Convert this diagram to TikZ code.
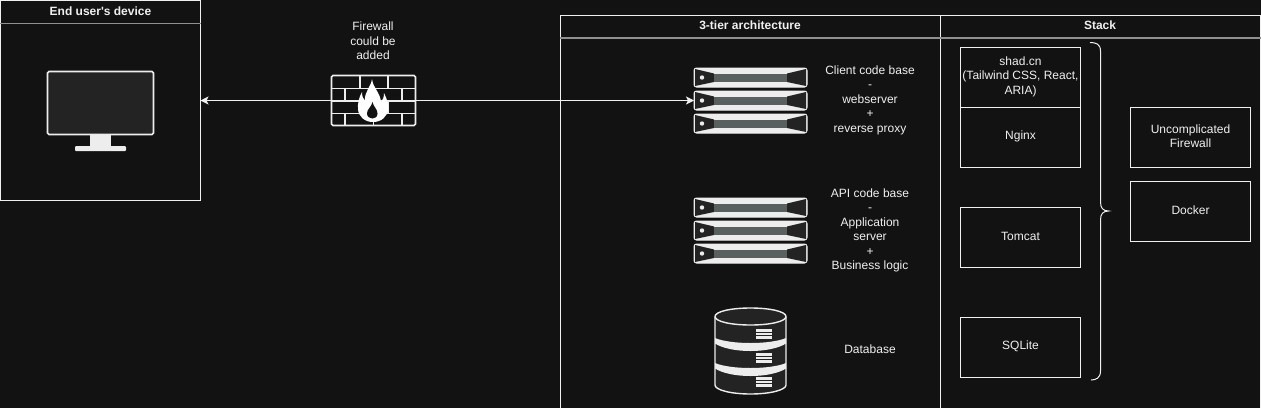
\documentclass[tikz,border=0pt]{standalone}
\usepackage{fontspec}
\setmainfont{Liberation Sans}
\newfontfamily\rawsans{Liberation Sans}
\usetikzlibrary{arrows.meta,calc}
\definecolor{bgc}{HTML}{121212}
\definecolor{ink}{HTML}{F0F0F0}
\definecolor{lightc}{HTML}{EDEDED}
\definecolor{darkc}{HTML}{232323}
\definecolor{barc}{HTML}{596060}
\definecolor{headc}{HTML}{909090}
\tikzset{
  x=1pt,y=-1pt,
  every node/.style={font=\fontsize{12}{14.5}\selectfont,text=ink,inner sep=0pt,outer sep=0pt,align=center},
  title/.style={font=\fontsize{12}{14.5}\selectfont\rawsans\bfseries},
  panel/.style={draw=ink,line width=1pt},
  headline/.style={draw=headc,line width=1.6pt},
  stackbox/.style={draw=ink,line width=1pt,rectangle,minimum width=120pt,minimum height=60pt,anchor=north west},
  pics/rack/.style={code={
    \foreach \yy in {0,23,46}{
      \begin{scope}[yshift=-\yy pt]
      \draw[lightc,fill=lightc,line width=1pt,rounded corners=2.5pt] (0,0) rectangle (113,19);
      \fill[darkc] (1,1) -- (20,5.5) -- (20,14) -- (1,18) -- cycle;
      \fill[darkc] (112,1) -- (93,5.5) -- (93,14) -- (112,18) -- cycle;
      \fill[barc] (20,5.5) rectangle (93,14);
      \fill[lightc] (8,9.5) circle[radius=2.2];
      \end{scope}
    }
  }},
  pics/diskslots/.style={code={
    \fill[lightc] (0,0) rectangle (16,2.6);
    \fill[lightc] (0,3.6) rectangle (16,6.2);
    \fill[lightc] (0,7.2) rectangle (16,9.8);
  }}
}
\begin{document}
\begin{tikzpicture}
\useasboundingbox (0,0) rectangle (1261,408);
\fill[bgc] (0,0) rectangle (1261,408);

% end user's device panel
\node[panel,rectangle,anchor=north west,minimum width=200pt,minimum height=200pt] (device) at (0.5,0.5) {};
\draw[headline] (0,23.5) -- (201,23.5);
\node[title] (devicetitle) at (100.5,11) {End user's device};

% monitor
\draw[lightc,fill=darkc,line width=1.6pt,rounded corners=1.5pt] (47.5,71.5) rectangle (153.5,134.5);
\fill[lightc] (89.5,135) rectangle (111,146.5);
\fill[lightc,rounded corners=1pt] (75,146) rectangle (126,151);

% 3-tier panel
\draw[panel] (560.5,408) -- (560.5,15.5) -- (1260.5,15.5) -- (1260.5,408);
\draw[panel] (940.5,15.5) -- (940.5,408);
\draw[headline] (560,38) -- (1261,38);
\node[title] (tiertitle) at (750,25) {3-tier architecture};
\node[title] (stacktitle) at (1100,25) {Stack};

% anchor on the first rack for the link
\node[rectangle,minimum width=113pt,minimum height=19pt,anchor=north west] (webrack) at (694,91) {};
\draw[ink,line width=1pt,{Stealth[length=8pt,width=8pt,inset=2pt]}-{Stealth[length=8pt,width=8pt,inset=2pt]}] (device.east) -- (webrack.west);

% firewall
\fill[bgc] (331,75) rectangle (416,126);
\begin{scope}[draw=lightc,line width=1.6pt]
\draw[rounded corners=1.5pt] (331.5,75.5) rectangle (415.5,125.5);
\draw (331.5,88.5) -- (415.5,88.5) (331.5,101) -- (415.5,101) (331.5,113.5) -- (415.5,113.5);
\draw (360,75.5) -- (360,88.5) (388,75.5) -- (388,88.5);
\draw (345,88.5) -- (345,101) (373.5,88.5) -- (373.5,101) (402,88.5) -- (402,101);
\draw (360,101) -- (360,113.5) (388,101) -- (388,113.5);
\draw (345,113.5) -- (345,125.5) (373.5,113.5) -- (373.5,125.5) (402,113.5) -- (402,125.5);
\end{scope}
\fill[white] (372,79) .. controls (373,88) and (380,92) .. (381,102) .. controls (383,100) and (384,97) .. (384,93) .. controls (387,99) and (388.5,104) .. (388,109) .. controls (387.5,117) and (381,122) .. (373,122) .. controls (365,122) and (358.5,117) .. (358,109) .. controls (357.5,104) and (359,97) .. (362,92) .. controls (362,96) and (363,99) .. (365,101) .. controls (364,92) and (371,87) .. (372,79) -- cycle;
\fill[bgc] (372.5,102) .. controls (373.5,107) and (377.5,109) .. (377.5,113.5) .. controls (377.5,117) and (375,118.5) .. (372.5,118.5) .. controls (370,118.5) and (367,117) .. (367,113.5) .. controls (367,109) and (371.5,107) .. (372.5,102) -- cycle;
\node (firewalltext) at (373,41) {Firewall\\could be\\added};

% racks
\pic at (694,68) {rack};
\pic at (694,198) {rack};
\node (clienttext) at (870,100) {Client code base\\-\\webserver\\+\\reverse proxy};
\node (apitext) at (870,230.5) {API code base\\-\\Application\\server\\+\\Business logic};

% database
\draw[lightc,fill=darkc,line width=1.4pt] (715,316.5) -- (715,385) .. controls (715,390) and (731,394) .. (750.5,394) .. controls (770,394) and (786,390) .. (786,385) -- (786,316.5) .. controls (786,311.5) and (770,308) .. (750.5,308) .. controls (731,308) and (715,311.5) .. (715,316.5) -- cycle;
\draw[lightc,line width=1.4pt] (715,316.5) .. controls (715,321.5) and (731,325) .. (750.5,325) .. controls (770,325) and (786,321.5) .. (786,316.5);
\fill[lightc] (715,338) .. controls (722,341) and (735,343) .. (750.5,343) .. controls (766,343) and (779,341) .. (786,338) -- (786,343.5) .. controls (779,348) and (766,351) .. (750.5,351) .. controls (735,351) and (722,348) .. (715,343.5) -- cycle;
\fill[lightc] (715,363) .. controls (722,366) and (735,368) .. (750.5,368) .. controls (766,368) and (779,366) .. (786,363) -- (786,368.5) .. controls (779,373) and (766,376) .. (750.5,376) .. controls (735,376) and (722,373) .. (715,368.5) -- cycle;
\pic at (756,329) {diskslots};
\pic at (756,353) {diskslots};
\pic at (756,377) {diskslots};
\node (dbtext) at (870,349.5) {Database};

% stack boxes
\node[stackbox] (shad) at (960.5,47.5) {};
\node (shadtext) at (1020.5,76.5) {shad.cn\\(Tailwind CSS, React,\\ARIA)};
\node[stackbox] (nginx) at (960.5,107.5) {};
\node (nginxtext) at ($(nginx.center)+(0,-1)$) {Nginx};
\node[stackbox] (tomcat) at (960.5,207.5) {};
\node (tomcattext) at ($(tomcat.center)+(0,-1.5)$) {Tomcat};
\node[stackbox] (sqlite) at (960.5,317.5) {};
\node (sqlitetext) at ($(sqlite.center)+(0,-1)$) {SQLite};
\node[stackbox] (ufw) at (1130.5,107.5) {};
\node (ufwtext) at ($(ufw.center)+(0,-1.5)$) {Uncomplicated\\Firewall};
\node[stackbox] (docker) at (1130.5,181) {};
\node (dockertext) at ($(docker.center)+(0,-1)$) {Docker};

% brace
\draw[ink,line width=1pt] (1090,42.5) .. controls (1096,42.5) and (1100.5,44) .. (1100.5,51) -- (1100.5,202) .. controls (1100.5,208) and (1103,211) .. (1108.5,211) .. controls (1103,211) and (1100.5,214) .. (1100.5,220) -- (1100.5,371) .. controls (1100.5,378) and (1096,380) .. (1091,380);
\end{tikzpicture}
\end{document}
